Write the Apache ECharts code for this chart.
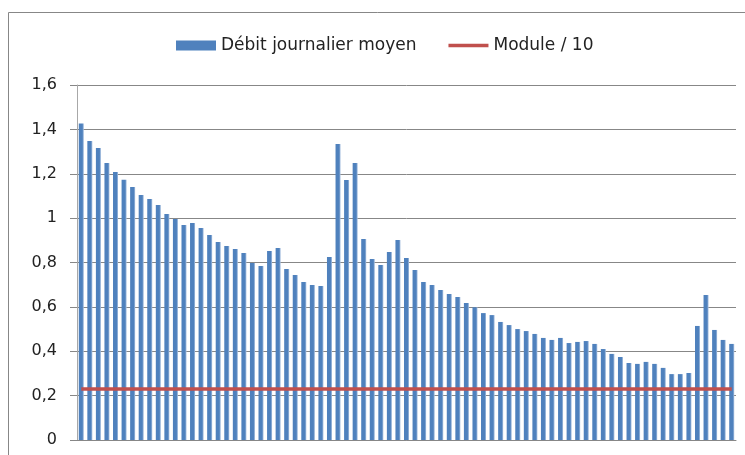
<!DOCTYPE html>
<html>
<head>
<meta charset="utf-8">
<script src="https://cdn.jsdelivr.net/npm/echarts@6/dist/echarts.min.js"></script>
<style>
  html, body { margin: 0; padding: 0; background: #fff; }
  #chart { width: 745px; height: 455px; }
</style>
</head>
<body>
<div id="chart"></div>
<script>
// débit journalier moyen, une barre par jour
var debitMoyen = [
  1.426, 1.348, 1.316, 1.249, 1.208, 1.173, 1.140, 1.104, 1.086, 1.059,
  1.019, 0.996, 0.969, 0.978, 0.956, 0.924, 0.892, 0.874, 0.861, 0.843,
  0.798, 0.784, 0.852, 0.865, 0.771, 0.744, 0.712, 0.699, 0.694, 0.825,
  1.334, 1.172, 1.249, 0.906, 0.816, 0.789, 0.847, 0.901, 0.820, 0.766,
  0.712, 0.699, 0.676, 0.658, 0.645, 0.617, 0.598, 0.572, 0.563, 0.532,
  0.518, 0.500, 0.491, 0.478, 0.460, 0.451, 0.460, 0.437, 0.442, 0.446,
  0.433, 0.410, 0.388, 0.374, 0.347, 0.343, 0.352, 0.343, 0.325, 0.297,
  0.297, 0.302, 0.514, 0.654, 0.496, 0.451, 0.433
];
var moduleSur10 = 0.23;
var categories = debitMoyen.map(function (v, i) { return String(i + 1); });
var moduleLine = debitMoyen.map(function () { return moduleSur10; });
var yTicks = [0, 0.2, 0.4, 0.6, 0.8, 1, 1.2, 1.4, 1.6];

var chart = echarts.init(document.getElementById('chart'), null, { renderer: 'canvas' });

var option = {
  animation: false,
  backgroundColor: '#fff',
  textStyle: { fontFamily: 'DejaVu Sans' },
  graphic: [
    {
      // cadre extérieur
      type: 'rect',
      shape: { x: 8.5, y: 12.5, width: 760, height: 460 },
      style: { fill: 'none', stroke: '#878787', lineWidth: 1 },
      silent: true
    }
  ],
  legend: {
    top: 32,
    left: 171,
    itemGap: 32,
    itemWidth: 40,
    itemHeight: 10,
    symbolKeepAspect: true,
    textStyle: { fontSize: 17, color: '#222', fontFamily: 'DejaVu Sans' },
    data: [
      { name: 'Débit journalier moyen', icon: 'rect', itemStyle: { color: '#4F81BD' } },
      { name: 'Module / 10', icon: 'path://M0,0h40v3.5h-40z', itemStyle: { color: '#C0504D' } }
    ]
  },
  grid: { left: 77, right: 9, top: 85, bottom: 15 },
  xAxis: {
    type: 'category',
    data: categories,
    boundaryGap: true,
    axisLine: { show: true, lineStyle: { color: '#878787' } },
    axisTick: { show: false },
    axisLabel: { show: false },
    splitLine: { show: false }
  },
  yAxis: {
    type: 'value',
    min: yTicks[0],
    max: yTicks[yTicks.length - 1],
    interval: 0.2,
    axisLine: { show: true, lineStyle: { color: '#a8a8a8', width: 1 } },
    axisTick: { show: true, length: 7, lineStyle: { color: '#878787' } },
    axisLabel: {
      fontSize: 16,
      color: '#222',
      margin: 20,
      formatter: function (v) {
        return String(Math.round(v * 10) / 10).replace('.', ',');
      }
    },
    splitLine: { show: true, lineStyle: { color: '#878787', width: 1 } }
  },
  series: [
    {
      name: 'Débit journalier moyen',
      type: 'bar',
      data: debitMoyen,
      barWidth: 5,
      itemStyle: {
        color: new echarts.graphic.LinearGradient(0, 0, 1, 0, [
          { offset: 0, color: '#4F81BD' },
          { offset: 0.7, color: '#4F81BD' },
          { offset: 1, color: '#A9C1E0' }
        ])
      }
    },
    {
      name: 'Module / 10',
      type: 'line',
      data: moduleLine,
      symbol: 'none',
      lineStyle: { color: '#C0504D', width: 3.5 },
      itemStyle: { color: '#C0504D' },
      z: 5
    }
  ]
};

chart.setOption(option);
</script>
</body>
</html>
